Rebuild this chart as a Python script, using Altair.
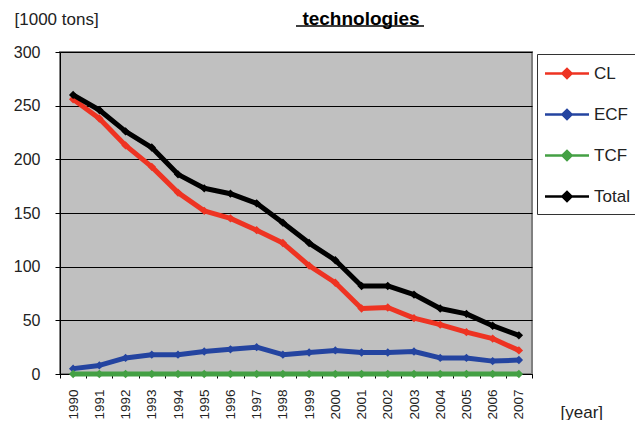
import altair as alt
import pandas as pd

years = [str(y) for y in range(1990, 2008)]
series_names = ["CL", "ECF", "TCF", "Total"]
cl = [256, 238, 213, 193, 169, 152, 145, 134, 122, 101, 85, 61, 62, 52, 46, 39, 33, 22]
ecf = [5, 8, 15, 18, 18, 21, 23, 25, 18, 20, 22, 20, 20, 21, 15, 15, 12, 13]
tcf = [0] * 18
total = [260, 246, 226, 211, 186, 173, 168, 159, 141, 122, 106, 82, 82, 74, 61, 56, 45, 36]
colors = ["#EE3322", "#2444A0", "#44A044", "#000000"]

rows = []
for name, vals in zip(series_names, [cl, ecf, tcf, total]):
    for y, v in zip(years, vals):
        rows.append({"year": y, "value": v, "series": name})
df = pd.DataFrame(rows)

FONT = "Liberation Sans"
sym_path = "M-1.15,0H3.25M0.6,0L1.05,-0.45L1.5,0L1.05,0.45Z"

color_enc = alt.Color(
    "series:N",
    scale=alt.Scale(domain=series_names, range=colors),
    legend=alt.Legend(
        title=None, orient="none", legendX=477, legendY=2, padding=8,
        strokeColor="#333333", fillColor="white",
        labelFontSize=17, labelFont=FONT, labelColor="#222222",
        symbolType=sym_path, symbolSize=400, symbolStrokeWidth=2.5,
        labelOffset=26, rowPadding=20,
    ),
)

x_enc = alt.X(
    "year:O",
    sort=years,
    scale=alt.Scale(type="band", paddingInner=0, paddingOuter=0),
    axis=alt.Axis(
        title="[year]", titleX=500, titleY=38, titleAlign="left", titleBaseline="middle",
        titleFontSize=17, titleFontWeight="normal", titleFont=FONT, titleColor="#222222",
        labelAngle=270, labelFontSize=13.5, labelFont=FONT, labelColor="#222222",
        labelPadding=11, tickBand="extent", tickSize=4, tickColor="#000000",
        domainColor="#000000", grid=False,
    ),
)
y_enc = alt.Y(
    "value:Q",
    scale=alt.Scale(domain=[0, 300], nice=False),
    axis=alt.Axis(
        values=[0, 50, 100, 150, 200, 250, 300],
        title="[1000 tons]", titleAngle=0, titleX=-46, titleY=-33, titleAlign="left",
        titleBaseline="middle", titleFontSize=17, titleFontWeight="normal",
        titleFont=FONT, titleColor="#222222",
        labelFontSize=16, labelFont=FONT, labelColor="#222222", labelPadding=15,
        tickSize=5, tickColor="#000000", domainColor="#000000",
        grid=True, gridColor="#000000", gridWidth=1,
    ),
)

layers = []
for name in series_names:
    layers.append(
        alt.Chart(df)
        .transform_filter(alt.datum.series == name)
        .mark_line(strokeWidth=5, strokeJoin="round",
                   point=alt.OverlayMarkDef(shape="diamond", filled=True, size=70))
        .encode(x=x_enc, y=y_enc, color=color_enc)
    )

underline = alt.Chart(pd.DataFrame({"a": [0]})).mark_rule(color="black", strokeWidth=1.5).encode(
    x=alt.value(236), x2=alt.value(364), y=alt.value(-26)
)

chart = (
    alt.layer(*layers, underline)
    .properties(
        width=472, height=322,
        title=alt.Title("technologies", fontSize=19, fontWeight="bold", font=FONT,
                        color="black", anchor="middle", dx=65, dy=34, offset=0,
                        baseline="alphabetic"),
        autosize=alt.AutoSizeParams(type="none"),
        padding={"left": 52, "top": 44, "right": 103, "bottom": 46},
    )
    .configure_view(fill="#C0C0C0", stroke="#808080", strokeWidth=2)
)

chart.save("out.html", embed_options={"renderer": "svg", "actions": False})
